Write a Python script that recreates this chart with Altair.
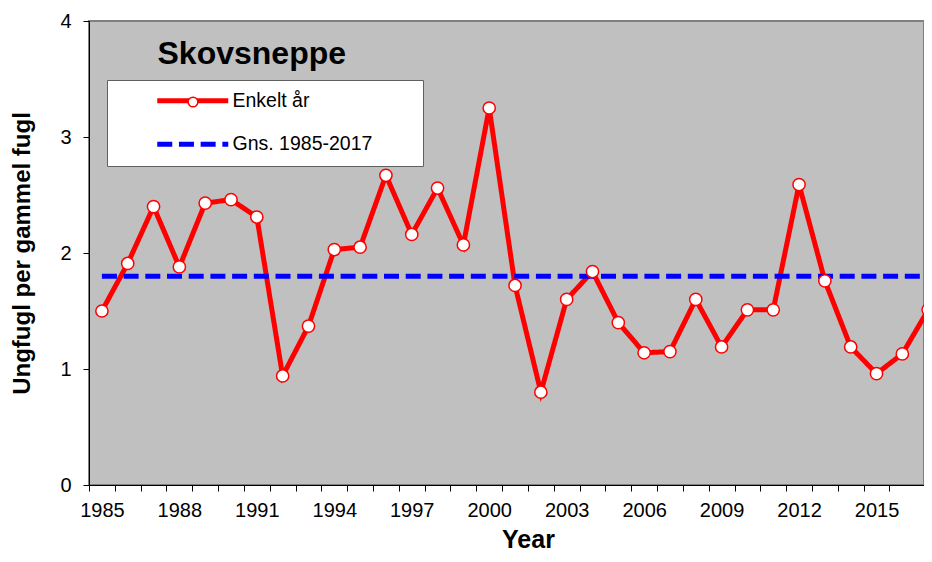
import altair as alt
import pandas as pd

# ---- data ----
years = list(range(1985, 2018))
values = [1.50, 1.91, 2.40, 1.88, 2.43, 2.46, 2.31, 0.94, 1.37, 2.03, 2.05,
          2.67, 2.16, 2.56, 2.07, 3.25, 1.72, 0.80, 1.60, 1.84, 1.40, 1.14,
          1.15, 1.60, 1.19, 1.51, 1.51, 2.59, 1.76, 1.19, 0.96, 1.13, 1.51]
mean_years = [1985, 2017]
mean_values = [1.80, 1.80]
series_names = ["Enkelt år", "Gns. 1985-2017"]
y_ticks = [0, 1, 2, 3, 4]
chart_title = "Skovsneppe"
y_title = "Ungfugl per gammel fugl"
x_title = "Year"

FONT = "Liberation Sans"
W, H = 835, 464
PX_PER_YEAR = 25.82
X0 = 1984.5
X1 = X0 + W / PX_PER_YEAR
half_band = PX_PER_YEAR / 2

rows = [{"serie": series_names[0], "year": y, "value": v, "m": "o"}
        for y, v in zip(years, values)]
rows += [{"serie": series_names[1], "year": y, "value": v, "m": "o"}
         for y, v in zip(mean_years, mean_values)]
df = pd.DataFrame(rows)

x_axis = alt.Axis(
    values=years, format="d",
    labelExpr="(datum.value - 1985) % 3 === 0 ? datum.label : ''",
    labelOverlap=False, labelFlush=False,
    tickOffset=-half_band, labelOffset=half_band,
    tickSize=6, tickColor="black", domainColor="black", domainWidth=1,
    labelFont=FONT, labelFontSize=20, labelColor="black", labelPadding=9,
    grid=False, title=x_title, titleFont=FONT, titleFontSize=25,
    titleFontWeight="bold", titleColor="black",
    titleX=439, titleY=62, titleBaseline="alphabetic",
)
y_axis = alt.Axis(
    values=y_ticks, format="d", tickSize=6, tickColor="black",
    domainColor="black", domainWidth=1, grid=False,
    labelFont=FONT, labelFontSize=20, labelColor="black", labelPadding=12,
    title=y_title, titleFont=FONT, titleFontSize=24, titleFontWeight="bold",
    titleColor="black", titlePadding=25,
)
x_scale = alt.Scale(domain=[X0, X1], nice=False, zero=False)
y_scale = alt.Scale(domain=[0, 4], nice=False)

x_enc = alt.X("year:Q", scale=x_scale, axis=x_axis)
y_enc = alt.Y("value:Q", scale=y_scale, axis=y_axis)

legend_main = alt.Legend(
    title=None, orient="none", legendX=18, legendY=59,
    fillColor="white", strokeColor="#606060", padding=11,
    labelFont=FONT, labelFontSize=19.5, labelColor="black",
    symbolType="M5.9,0L20.1,0M54.7,0", symbolSize=100, symbolStrokeWidth=5,
    rowPadding=22.5, labelOffset=95, zindex=1,
)

lines = alt.Chart(df).mark_line(strokeWidth=5, strokeCap="butt").encode(
    x=x_enc, y=y_enc,
    color=alt.Color("serie:N", scale=alt.Scale(domain=series_names, range=["#FF0000", "#0000FF"]),
                    legend=legend_main),
    strokeDash=alt.StrokeDash("serie:N", scale=alt.Scale(domain=series_names, range=[[1, 0], [15, 6.7]]),
                              legend=legend_main),
)

points = alt.Chart(df).transform_filter(
    alt.datum.serie == series_names[0]
).mark_point(filled=False, fill="white", shape="circle", strokeWidth=1.5, size=150, opacity=1,
             fillOpacity=1).encode(
    x=x_enc, y=y_enc,
    stroke=alt.Stroke("m:N", scale=alt.Scale(domain=["o"], range=["#FF0000"]),
                      legend=alt.Legend(title=None, orient="none", legendX=98, legendY=75, padding=0,
                                        labelExpr="''", symbolSize=95, symbolType="circle",
                                        symbolFillColor="white", symbolStrokeWidth=1.5,
                                        symbolOpacity=1, zindex=2)),
)

chart = alt.layer(lines, points).properties(
    width=W, height=H,
    title=alt.TitleParams(chart_title, anchor="start", frame="group", font=FONT, fontSize=32,
                          fontWeight="bold", color="black", dx=68.5, dy=64),
    autosize=alt.AutoSizeParams(type="none"),
    padding={"left": 81, "top": 13, "right": 0, "bottom": 69},
    background="white",
).configure_view(
    fill="#C0C0C0", stroke="#808080", strokeWidth=2,
)

chart.save("out.html", embed_options={"renderer": "svg", "actions": False})
